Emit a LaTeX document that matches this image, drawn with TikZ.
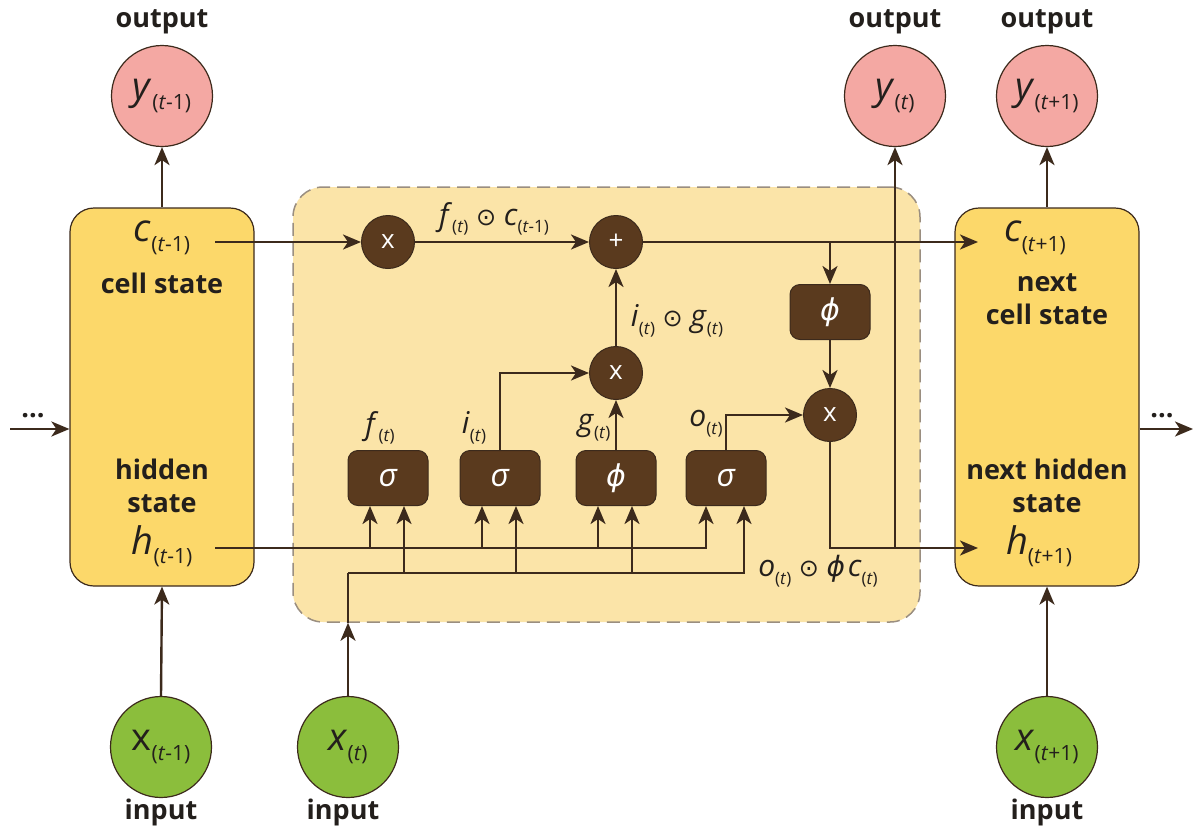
\documentclass[tikz,border=0pt]{standalone}
\usepackage{fontspec}
\setmainfont{Open Sans}
\newfontfamily\symf{DejaVu Sans}
\usetikzlibrary{arrows.meta,calc}
\definecolor{pinkc}{HTML}{F4A8A3}
\definecolor{greenc}{HTML}{8BBE3C}
\definecolor{yellowc}{HTML}{FCD86A}
\definecolor{lightc}{HTML}{FBE4A8}
\definecolor{brownc}{HTML}{5A3A1E}
\definecolor{linec}{HTML}{3C2A1C}
\definecolor{dashc}{HTML}{9A8E80}
\definecolor{textc}{HTML}{231F1C}
\newcommand{\vs}[4]{{\fontsize{#3}{#3}\selectfont\textit{#1}}{\fontsize{#4}{#4}\selectfont\raisebox{-0.45em}{#2}}}
\newcommand{\vsu}[4]{{\fontsize{#3}{#3}\selectfont #1}{\fontsize{#4}{#4}\selectfont\raisebox{-0.45em}{#2}}}
\newcommand{\odt}{{\symf\fontsize{24}{24}\selectfont\ ⊙\ }}
\newcommand{\phis}[1]{{\symf\fontsize{#1}{#1}\selectfont\itshape ϕ}}
\begin{document}
\begin{tikzpicture}[x=1pt,y=-1pt,
  ln/.style={draw=linec,line width=2.4pt},
  arr/.style={ln,-{Stealth[length=18pt,width=15pt,inset=5pt]}},
  outc/.style={circle,draw=linec,line width=1.2pt,fill=pinkc,minimum size=101pt,inner sep=0pt,text=textc},
  inc/.style={circle,draw=linec,line width=1.2pt,fill=greenc,minimum size=101pt,inner sep=0pt,text=textc},
  statebox/.style={rectangle,rounded corners=24pt,draw=linec,line width=1.2pt,fill=yellowc,minimum width=184pt,minimum height=378pt},
  region/.style={rectangle,rounded corners=30pt,draw=dashc,dash pattern=on 13pt off 7pt,line width=1.5pt,fill=lightc,minimum width=627pt,minimum height=435pt},
  op/.style={circle,fill=brownc,draw=linec,line width=1pt,minimum size=53pt,inner sep=0pt,text=white,font=\fontsize{26}{26}\selectfont},
  gate/.style={rectangle,rounded corners=10pt,fill=brownc,draw=linec,line width=1pt,minimum width=80pt,minimum height=55pt,text=white,font=\fontsize{32}{32}\selectfont\itshape},
  bl/.style={font=\fontsize{27}{33}\selectfont\bfseries,text=textc,align=center,inner sep=0pt},
  lb/.style={text=textc,inner sep=0pt},
]
\useasboundingbox (0,0) rectangle (1195,833);
\fill[white] (0,0) rectangle (1195,833);

% cell region
\node[region] (cell) at (606.5,404.5) {};

% state boxes
\node[statebox] (L) at (162,397) {};
\node[statebox] (R) at (1047,397) {};

% output / input circles
\node[outc] (y1) at (162,96) {\vs{y}{(\textit{t}-1)}{38}{21}};
\node[outc] (y2) at (895,96) {\vs{y}{(\textit{t})}{38}{21}};
\node[outc] (y3) at (1047,96) {\vs{y}{(\textit{t}+1)}{38}{21}};
\node[inc] (x1) at (161,747) {\vsu{x}{(\textit{t}-1)}{38}{21}};
\node[inc] (x2) at (348,747) {\vs{x}{(\textit{t})}{38}{21}};
\node[inc] (x3) at (1047,747) {\vs{x}{(\textit{t}+1)}{38}{21}};

\node[bl] (o1) at (162,22) {output};
\node[bl] (o2) at (895,22) {output};
\node[bl] (o3) at (1047,22) {output};
\node[bl] (i1) at (161,812) {input};
\node[bl] (i2) at (343,812) {input};
\node[bl] (i3) at (1047,812) {input};

% text in state boxes
\node[lb] (cl) at (162,238) {\vs{c}{(\textit{t}-1)}{38}{21}};
\node[bl] (cst) at (162,283) {cell state};
\node[bl] (hst) at (162,486) {hidden\\state};
\node[lb] (hl) at (162,546) {\vs{h}{(\textit{t}-1)}{38}{21}};
\node[lb] (cr) at (1035,238) {\vs{c}{(\textit{t}+1)}{38}{21}};
\node[bl] (ncst) at (1047,299) {next\\cell state};
\node[bl] (nhst) at (1047,486) {next hidden\\state};
\node[lb] (hr) at (1039,546) {\vs{h}{(\textit{t}+1)}{38}{21}};

% ops and gates
\node[op] (m1) at (388,242) {x};
\node[op] (plus) at (616,242) {+};
\node[op] (m2) at (616,373) {x};
\node[op] (m3) at (830,415) {x};
\node[gate] (phib) at (830,312) {\phis{30}};
\node[gate] (gf) at (388,478) {σ};
\node[gate] (gi) at (500,478) {σ};
\node[gate] (gg) at (616,478) {\phis{30}};
\node[gate] (go) at (726,478) {σ};

% gate labels
\node[lb] (lf) at (380,428) {\vs{f}{(\textit{t})}{30}{17}};
\node[lb] (li) at (474,428) {\vs{i}{(\textit{t})}{30}{17}};
\node[lb] (lg) at (594,428) {\vs{g}{(\textit{t})}{30}{17}};
\node[lb] (lo) at (706,424) {\vs{o}{(\textit{t})}{30}{17}};
\node[lb] (lfc) at (494,219) {\vs{f}{(\textit{t})}{30}{17}\odt\vs{c}{(\textit{t}-1)}{30}{17}};
\node[lb] (lig) at (677,321) {\vs{i}{(\textit{t})}{30}{17}\odt\vs{g}{(\textit{t})}{30}{17}};
\node[lb] (loc) at (818,571) {\vs{o}{(\textit{t})}{30}{17}\odt\phis{28}\ \vs{c}{(\textit{t})}{30}{17}};

% dots
\node[bl] (dl0) at (33,416) {...};
\node[bl] (dr0) at (1162,416) {...};
\coordinate (dl) at (10,429);
\coordinate (dr) at (1193,429);
\draw[arr] (dl) -- (dl -| L.west);
\draw[arr] (dr -| R.east) -- (dr);

% vertical in/out
\draw[arr] (L.north) -- (y1.south);
\draw[arr] (x1.north) -- (L.south);
\draw[arr] (R.north) -- (y3.south);
\draw[arr] (x3.north) -- (R.south);

% cell state line
\coordinate (cL) at (215,242);
\coordinate (cR) at (978,242);
\coordinate (jphi) at (830,242);
\draw[arr] (cL) -- (m1);
\draw[arr] (m1) -- (plus);
\draw[arr] (plus) -- (cR);
\draw[arr] (jphi) -- (phib);
\draw[arr] (phib) -- (m3);
\draw[arr] (m2) -- (plus);
\draw[arr] (gi.north) |- (m2);
\draw[arr] (gg) -- (m2);
\draw[arr] (go.north) |- (m3);
\coordinate (hR) at (978,548);
\coordinate (jy) at (895,548);
\draw[arr] (m3) |- (hR);
\draw[arr] (jy) -- (y2.south);

% hidden and input lines
\coordinate (hL) at (215,548);
\coordinate (xj) at (348,573);
\coordinate (fa) at ([xshift=-18pt]gf.south);
\coordinate (fb) at ([xshift=16pt]gf.south);
\coordinate (ia) at ([xshift=-18pt]gi.south);
\coordinate (ib) at ([xshift=16pt]gi.south);
\coordinate (ga) at ([xshift=-18pt]gg.south);
\coordinate (gb) at ([xshift=16pt]gg.south);
\coordinate (oa) at ([xshift=-20pt]go.south);
\coordinate (ob) at ([xshift=18pt]go.south);
\draw[arr] (hL) -| (oa);
\draw[arr] (fa |- hL) -- (fa);
\draw[arr] (ia |- hL) -- (ia);
\draw[arr] (ga |- hL) -- (ga);
\draw[arr] (x2.north) -- (x2 |- cell.south);
\draw[ln] (x2 |- cell.south) -- (xj);
\draw[arr] (xj) -| (ob);
\draw[arr] (fb |- xj) -- (fb);
\draw[arr] (ib |- xj) -- (ib);
\draw[arr] (gb |- xj) -- (gb);
\end{tikzpicture}
\end{document}
